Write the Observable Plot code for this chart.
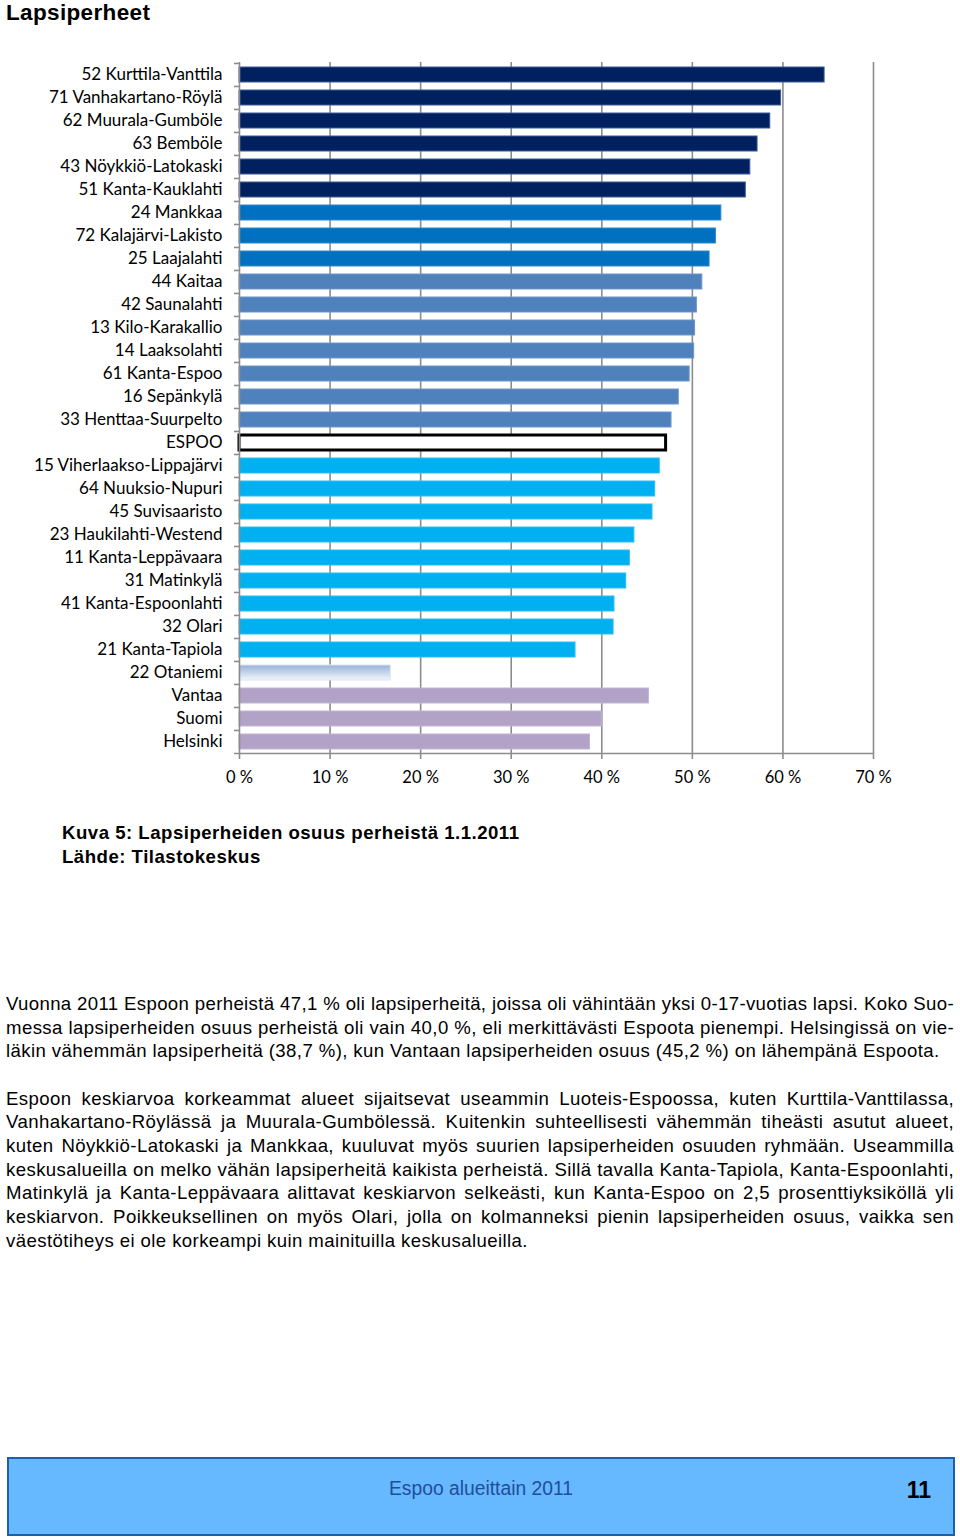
<!DOCTYPE html>
<html>
<head>
<meta charset="utf-8">
<script src="https://cdn.jsdelivr.net/npm/d3@7"></script>
<script src="https://cdn.jsdelivr.net/npm/@observablehq/plot@0.6"></script>
<style>
  body { margin: 0; background: #fff; }
  #page { position: relative; width: 960px; height: 1537px; font-family: "Liberation Sans", Arial, sans-serif; color: #000; }
  #title { position: absolute; left: 6px; top: 0px; font-weight: bold; font-size: 22.5px; letter-spacing: 0.35px; line-height: 26px; }
  #chart { position: absolute; left: 0; top: 40px; }
  #caption { position: absolute; left: 62px; top: 821px; font-weight: bold; font-size: 18.6px; letter-spacing: 0.5px; line-height: 24px; }
  #text { position: absolute; left: 6px; width: 948px; top: 992px; font-size: 18.6px; letter-spacing: 0.4px; line-height: 23.7px; }
  #text .ln { text-align: justify; text-align-last: justify; white-space: nowrap; }
  #text .last { text-align: left; text-align-last: left; }
  #text .gap { height: 23.5px; }
  #footer { position: absolute; left: 7px; top: 1457px; width: 944px; height: 75px; background: #66B8FF; border: 2px solid #1F5FA8; }
  #footer .mid { position: absolute; left: 0; right: 0; top: 19px; text-align: center; font-size: 19.3px; color: #1F4E9A; }
  #footer .num { position: absolute; right: 22px; top: 18px; font-size: 23px; font-weight: bold; color: #000; }
</style>
</head>
<body>
<div id="page">
  <div id="title">Lapsiperheet</div>
  <div id="chart"></div>
  <div id="caption">Kuva 5: Lapsiperheiden osuus perheistä 1.1.2011<br>Lähde: Tilastokeskus</div>
  <div id="text">
    <div class="ln">Vuonna 2011 Espoon perheistä 47,1 % oli lapsiperheitä, joissa oli vähintään yksi 0-17-vuotias lapsi. Koko Suo-</div>
    <div class="ln">messa lapsiperheiden osuus perheistä oli vain 40,0 %, eli merkittävästi Espoota pienempi. Helsingissä on vie-</div>
    <div class="ln last">läkin vähemmän lapsiperheitä (38,7 %), kun Vantaan lapsiperheiden osuus (45,2 %) on lähempänä Espoota.</div>
    <div class="gap"></div>
    <div class="ln">Espoon keskiarvoa korkeammat alueet sijaitsevat useammin Luoteis-Espoossa, kuten Kurttila-Vanttilassa,</div>
    <div class="ln">Vanhakartano-Röylässä ja Muurala-Gumbölessä. Kuitenkin suhteellisesti vähemmän tiheästi asutut alueet,</div>
    <div class="ln">kuten Nöykkiö-Latokaski ja Mankkaa, kuuluvat myös suurien lapsiperheiden osuuden ryhmään. Useammilla</div>
    <div class="ln">keskusalueilla on melko vähän lapsiperheitä kaikista perheistä. Sillä tavalla Kanta-Tapiola, Kanta-Espoonlahti,</div>
    <div class="ln">Matinkylä ja Kanta-Leppävaara alittavat keskiarvon selkeästi, kun Kanta-Espoo on 2,5 prosenttiyksiköllä yli</div>
    <div class="ln">keskiarvon. Poikkeuksellinen on myös Olari, jolla on kolmanneksi pienin lapsiperheiden osuus, vaikka sen</div>
    <div class="ln last">väestötiheys ei ole korkeampi kuin mainituilla keskusalueilla.</div>
  </div>
  <div id="footer"><div class="mid">Espoo alueittain 2011</div><div class="num">11</div></div>
</div>
<script>
const categories = [
  "52 Kurttila-Vanttila", "71 Vanhakartano-Röylä", "62 Muurala-Gumböle", "63 Bemböle",
  "43 Nöykkiö-Latokaski", "51 Kanta-Kauklahti", "24 Mankkaa", "72 Kalajärvi-Lakisto",
  "25 Laajalahti", "44 Kaitaa", "42 Saunalahti", "13 Kilo-Karakallio", "14 Laaksolahti",
  "61 Kanta-Espoo", "16 Sepänkylä", "33 Henttaa-Suurpelto", "ESPOO",
  "15 Viherlaakso-Lippajärvi", "64 Nuuksio-Nupuri", "45 Suvisaaristo", "23 Haukilahti-Westend",
  "11 Kanta-Leppävaara", "31 Matinkylä", "41 Kanta-Espoonlahti", "32 Olari", "21 Kanta-Tapiola",
  "22 Otaniemi", "Vantaa", "Suomi", "Helsinki"
];
const values = [
  64.6, 59.8, 58.6, 57.2,
  56.4, 55.9, 53.2, 52.6,
  51.9, 51.1, 50.5, 50.3, 50.2,
  49.7, 48.5, 47.7, 47.1,
  46.4, 45.9, 45.6, 43.6,
  43.1, 42.7, 41.4, 41.3, 37.1,
  16.7, 45.2, 40.0, 38.7
];
const groups = [
  "g1", "g1", "g1", "g1", "g1", "g1", "g2", "g2",
  "g2", "g3", "g3", "g3", "g3", "g3", "g3", "g3", "espoo",
  "g4", "g4", "g4", "g4", "g4", "g4", "g4", "g4", "g4",
  "ota", "ref", "ref", "ref"
];
const xTicks = [0, 10, 20, 30, 40, 50, 60, 70];

const data = categories.map((name, i) => ({name, value: values[i], group: groups[i]}));

const fillFor = {g1: "#002060", g2: "#0070C0", g3: "#4F81BD", espoo: "#FFFFFF", g4: "#00B0F0", ota: "url(#otaGrad)", ref: "#B3A2C7"};
const strokeFor = {g1: "#3A5A98", g2: "#2A8AD0", g3: "#6F95C8", espoo: "#000000", g4: "#2ABEF2", ota: "#DCE6F2", ref: "#C2B4D3"};

const W = 960, H = 760, mT = 22, mB = 46, mL = 239, mR = 87;
const step = (H - mT - mB) / categories.length;
const grid = "#8C8C8C";

const chart = Plot.plot({
  width: W, height: H,
  marginLeft: mL, marginRight: mR, marginTop: mT, marginBottom: mB,
  style: {fontFamily: "Lato, 'Open Sans', sans-serif", background: "transparent"},
  x: {domain: [0, 70], label: null},
  y: {domain: categories, paddingInner: 0.35, paddingOuter: 0.175, label: null},
  color: {type: "identity"},
  marks: [
    Plot.ruleX(xTicks.slice(1), {stroke: grid, strokeWidth: 1.6}),
    Plot.barX(data, {
      x: "value", y: "name",
      fill: d => fillFor[d.group],
      stroke: d => strokeFor[d.group],
      strokeWidth: d => d.group === "espoo" ? 3 : 1,
      inset: 0
    }),
    Plot.ruleX([0], {stroke: grid, strokeWidth: 1.6}),
    Plot.ruleY(categories, {y: d => d, x1: -0.55, x2: 0, dy: -step / 2, stroke: grid, strokeWidth: 1.6}),
    Plot.ruleY([categories[categories.length - 1]], {y: d => d, x1: -0.55, x2: 70, dy: step / 2, stroke: grid, strokeWidth: 1.6}),
    Plot.axisX({
      ticks: xTicks, tickFormat: d => d + " %", tickSize: 5, tickPadding: 12,
      stroke: grid, strokeWidth: 1.6, fontSize: 16.5, fill: "#000", label: null
    }),
    Plot.axisY({tickSize: 0, tickPadding: 17, fontSize: 17, fill: "#000", label: null})
  ]
});

const svg = d3.select(chart.tagName.toLowerCase() === "svg" ? chart : chart.querySelector("svg"));
const grad = svg.insert("defs", ":first-child")
  .append("linearGradient").attr("id", "otaGrad")
  .attr("x1", 0).attr("y1", 0).attr("x2", 0).attr("y2", 1);
grad.append("stop").attr("offset", "0%").attr("stop-color", "#95B3D7");
grad.append("stop").attr("offset", "100%").attr("stop-color", "#F2F6FB");

document.getElementById("chart").appendChild(chart);

// keep every justified line inside the text column
document.querySelectorAll("#text .ln").forEach(el => {
  let ls = 0.4;
  while (el.scrollWidth > el.clientWidth && ls > -0.5) {
    ls -= 0.05;
    el.style.letterSpacing = ls + "px";
  }
});
</script>
</body>
</html>
